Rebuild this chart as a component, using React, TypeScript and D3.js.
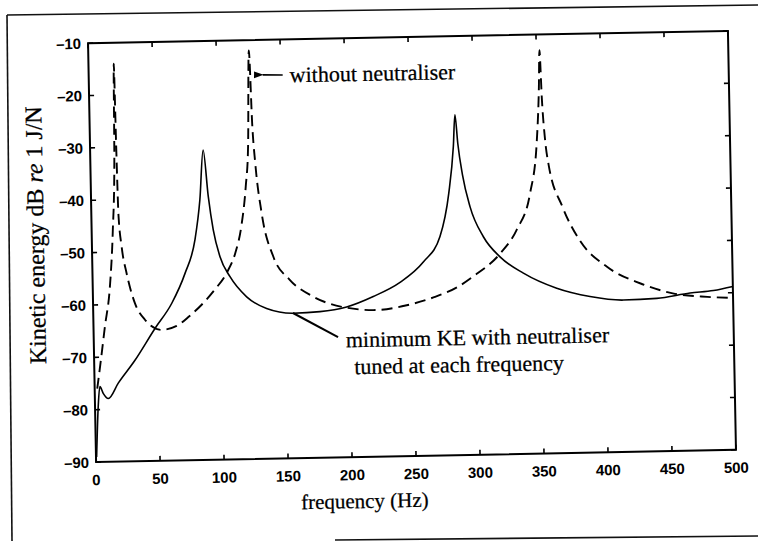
import React from "react";
import * as d3 from "d3";

// ---- data ----
const freqTicks = [0, 50, 100, 150, 200, 250, 300, 350, 400, 450, 500];
const dbTicks = [-90, -80, -70, -60, -50, -40, -30, -20, -10];

// Kinetic energy without neutraliser (dashed)
const withoutFreq = [
  2, 5.3, 8.9, 13.4, 16.5, 18.8, 19.8, 20.4, 21.2, 23.2, 26.7, 32.7, 40.3, 53, 65, 75, 85,
  95, 105, 112, 117, 121, 123.5, 125.5, 127, 128.8, 133, 141.5, 154, 172, 195,
  221, 245, 266, 285, 297, 319, 332, 343, 349, 351.5, 352.5, 353.6, 355.5, 358, 368,
  381, 402, 428, 453, 480, 500,
];
const withoutDb = [
  -76, -70.5, -64.2, -56.6, -46, -32, -14, -29, -43, -49, -54.1, -59.8, -63, -65, -64.3,
  -62.5, -60.3, -57.6, -54.3, -50.5, -45.5, -38, -30, -12, -26, -33.5, -43, -51.4, -55.9,
  -59.2, -61.3, -62, -61.2, -59.8, -57.9, -56, -51.6, -47.2, -40.3, -30.5, -20, -13, -22,
  -30, -35, -42.9, -49.4, -54.6, -57.9, -59.9, -60.7, -61,
];

// Minimum KE with neutraliser tuned at each frequency (solid)
const withFreq = [
  0.5, 2.5, 4.1, 6.6, 10.5, 18.5, 31.9, 48, 61.4, 72.3, 80.5, 85, 88.3, 91.6, 95, 99.8,
  107.4, 120.1, 135.5, 156.3, 177.1, 198, 219, 240.1, 258.6, 272, 279.5, 283.8, 285.5,
  287.3, 290.5, 295.9, 305.9, 318.6, 336.6, 362.4, 388.3, 414.3, 440.4, 466.5, 484.8, 500,
];
const withDb = [
  -89, -79.4, -75.6, -76.9, -77.9, -75, -70.7, -64.7, -60, -54.3, -48, -40.3, -30.8, -39.7,
  -46.1, -51.2, -55.1, -59, -61.3, -62.3, -62.1, -61.3, -59.4, -56.8, -53, -48.2, -40, -31,
  -25, -30.5, -36.5, -42.6, -48.4, -52.3, -55.5, -58.5, -60.2, -61, -60.8, -59.9, -59.5,
  -58.8,
];

const W = 758;
const H = 541;
const M = { left: 92, right: 732, top: 37, bottom: 456 };

export default function App() {
  const x = d3.scaleLinear().domain([0, 500]).range([M.left, M.right]);
  const y = d3.scaleLinear().domain([-90, -10]).range([M.bottom, M.top]);
  const line = d3
    .line<[number, number]>()
    .x((d) => x(d[0]))
    .y((d) => y(d[1]))
    .curve(d3.curveMonotoneX);

  const dashed = line(withoutFreq.map((f, i) => [f, withoutDb[i]] as [number, number])) || "";
  const solid = line(withFreq.map((f, i) => [f, withDb[i]] as [number, number])) || "";

  const tick = 5;
  const serif = "'Liberation Serif', 'DejaVu Serif', serif";
  const sans = "'Liberation Sans', Arial, sans-serif";
  const txt = { fill: "#000", stroke: "#000", strokeWidth: 0.25 };

  return (
    <div style={{ position: "absolute", left: 0, top: 0 }}>
      <svg width={W} height={H} viewBox={`0 0 ${W} ${H}`} style={{ display: "block", background: "#fff" }}>
        <rect x={0} y={0} width={W} height={H} fill="#fff" />
        {/* outer scanned frame */}
        <g stroke="#111" strokeWidth={1.6} fill="none">
          <line x1={7} y1={15} x2={758} y2={5} />
          <line x1={7} y1={15} x2={12} y2={541} />
          <line x1={335} y1={540} x2={758} y2={536} />
        </g>
        <defs>
          <marker id="arrow" viewBox="0 0 10 10" refX="1" refY="5" markerWidth="8" markerHeight="6" orient="auto-start-reverse">
            <path d="M10,1.5 L0,5 L10,8.5 z" fill="#000" />
          </marker>
        </defs>
        <g transform={`rotate(-1.1 412 246)`}>
          {/* curves */}
          <path d={dashed} fill="none" stroke="#000" strokeWidth={1.9} strokeDasharray="11,6" />
          <path d={solid} fill="none" stroke="#000" strokeWidth={1.6} />
          {/* axes box */}
          <rect x={M.left} y={M.top} width={M.right - M.left} height={M.bottom - M.top} fill="none" stroke="#000" strokeWidth={2} />
          {/* x ticks */}
          {freqTicks.map((t) => (
            <g key={"x" + t}>
              <line x1={x(t)} x2={x(t)} y1={M.bottom} y2={M.bottom - tick} stroke="#000" strokeWidth={1.6} />
              <line x1={x(t)} x2={x(t)} y1={M.top} y2={M.top + tick} stroke="#000" strokeWidth={1.6} />
              <text x={x(t)} y={M.bottom + 23} textAnchor="middle" fontFamily={sans} fontWeight="bold" fontSize={15} fill="#000">
                {t}
              </text>
            </g>
          ))}
          {/* y ticks */}
          {dbTicks.map((t) => (
            <g key={"y" + t}>
              <line x1={M.left} x2={M.left + tick} y1={y(t)} y2={y(t)} stroke="#000" strokeWidth={1.6} />
              <line x1={M.right} x2={M.right - tick} y1={y(t)} y2={y(t)} stroke="#000" strokeWidth={1.6} />
              <text x={M.left - 7} y={y(t) + 5.5} textAnchor="end" fontFamily={sans} fontWeight="bold" fontSize={15} fill="#000">
                {"\u2013" + String(Math.abs(t))}
              </text>
            </g>
          ))}
          {/* axis titles */}
          <text x={360} y={507} textAnchor="middle" fontFamily={serif} fontSize={21} {...txt}>
            frequency (Hz)
          </text>
          <text
            transform={`translate(44 ${228}) rotate(-90)`}
            textAnchor="middle"
            fontFamily={serif}
            fontSize={24}
            {...txt}
          >
            Kinetic energy dB <tspan fontStyle="italic">re</tspan> 1 J/N
          </text>
          {/* annotations */}
          <line x1={286} y1={72.5} x2={266} y2={72} stroke="#000" strokeWidth={1.6} markerEnd="url(#arrow)" />
          <text x={293} y={80} fontFamily={serif} fontSize={22} {...txt}>
            without neutraliser
          </text>
          <line x1={291.7} y1={310.7} x2={336.3} y2={335.6} stroke="#000" strokeWidth={2} />
          <text x={344} y={346} fontFamily={serif} fontSize={22} {...txt}>
            minimum KE with neutraliser
          </text>
          <text x={352} y={373} fontFamily={serif} fontSize={22} {...txt}>
            tuned at each frequency
          </text>
        </g>
      </svg>
    </div>
  );
}
